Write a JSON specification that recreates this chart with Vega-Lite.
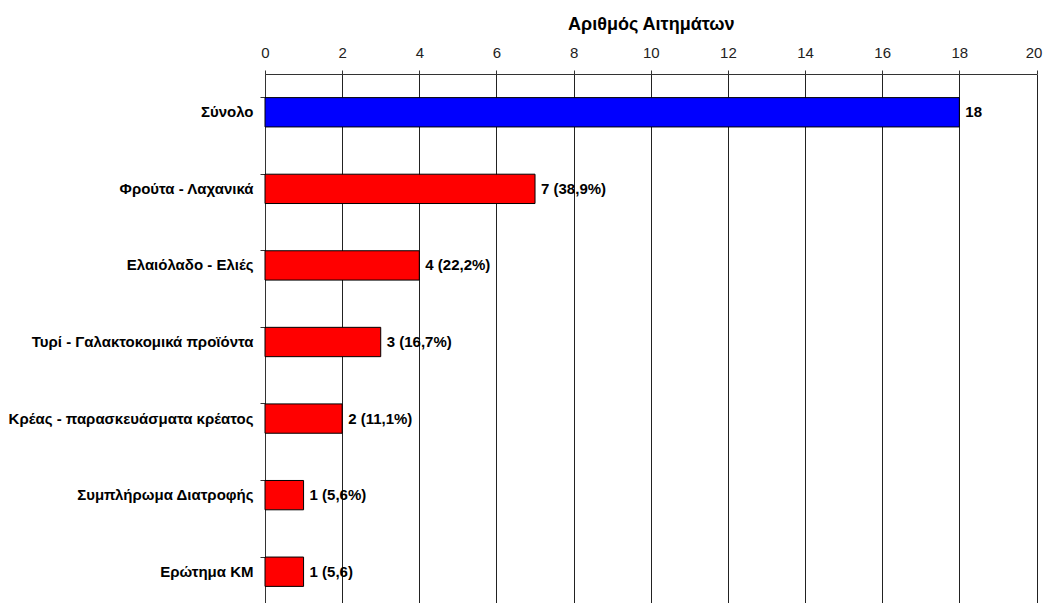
{
  "$schema": "https://vega.github.io/schema/vega-lite/v6.json",
  "width": 771.5,
  "height": 536,
  "autosize": "none",
  "padding": {"left": 265, "top": 74, "right": 7, "bottom": 0},
  "background": "white",
  "config": {"view": {"stroke": null}, "font": "Liberation Sans"},
  "data": {
    "values": [
      {"category": "Σύνολο", "value": 18, "label": "18", "group": "total"},
      {"category": "Φρούτα - Λαχανικά", "value": 7, "label": "7 (38,9%)", "group": "cat"},
      {"category": "Ελαιόλαδο - Ελιές", "value": 4, "label": "4 (22,2%)", "group": "cat"},
      {"category": "Τυρί - Γαλακτοκομικά προϊόντα", "value": 3, "label": "3 (16,7%)", "group": "cat"},
      {"category": "Κρέας - παρασκευάσματα κρέατος", "value": 2, "label": "2 (11,1%)", "group": "cat"},
      {"category": "Συμπλήρωμα Διατροφής", "value": 1, "label": "1 (5,6%)", "group": "cat"},
      {"category": "Ερώτημα ΚΜ", "value": 1, "label": "1 (5,6)", "group": "cat"}
    ]
  },
  "encoding": {
    "y": {
      "field": "category",
      "type": "nominal",
      "sort": null,
      "scale": {"paddingInner": 0.617, "paddingOuter": 0.3085},
      "axis": {
        "title": null,
        "bandPosition": 0,
        "domainColor": "#333333",
        "tickColor": "#333333",
        "tickSize": 5,
        "labelFont": "Liberation Sans",
        "labelFontWeight": "bold",
        "labelFontSize": 15,
        "labelColor": "black",
        "labelPadding": 7,
        "labelLimit": 300,
        "grid": false
      }
    },
    "x": {
      "field": "value",
      "type": "quantitative",
      "scale": {"domain": [0, 20], "nice": false},
      "axis": {
        "orient": "top",
        "title": "Αριθμός Αιτημάτων",
        "titleFont": "Liberation Sans",
        "titleFontSize": 18,
        "titleFontWeight": "bold",
        "titleColor": "black",
        "titlePadding": 12,
        "values": [0, 2, 4, 6, 8, 10, 12, 14, 16, 18, 20],
        "labelFont": "Liberation Sans",
        "labelFontSize": 15,
        "labelColor": "#222222",
        "labelPadding": 10,
        "labelFlush": false,
        "labelOffset": {"condition": {"test": "datum.value == 20", "value": -3}, "value": 0},
        "domainColor": "#333333",
        "tickColor": "#333333",
        "tickSize": 4,
        "grid": true,
        "gridColor": "#222222",
        "gridOpacity": 1
      }
    }
  },
  "layer": [
    {
      "mark": {"type": "bar", "stroke": "black", "strokeWidth": 1},
      "encoding": {
        "color": {
          "field": "group",
          "type": "nominal",
          "scale": {"domain": ["total", "cat"], "range": ["#0000FF", "#FF0000"]},
          "legend": null
        }
      }
    },
    {
      "mark": {"type": "text", "align": "left", "dx": 6, "font": "Liberation Sans", "fontWeight": "bold", "fontSize": 15, "color": "black"},
      "encoding": {"text": {"field": "label"}}
    }
  ]
}
